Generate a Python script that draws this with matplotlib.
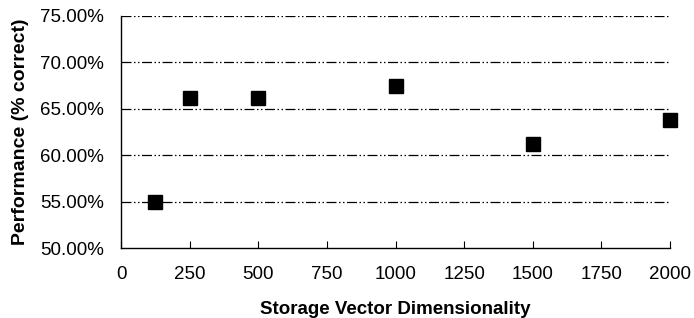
import matplotlib.pyplot as plt
from matplotlib.ticker import FuncFormatter

dimensions = [125, 250, 500, 1000, 1500, 2000]
performance = [55.0, 66.2, 66.2, 67.5, 61.2, 63.8]

x_ticks = [0, 250, 500, 750, 1000, 1250, 1500, 1750, 2000]
y_ticks = [50, 55, 60, 65, 70, 75]

plt.rcParams['font.family'] = ['Liberation Sans', 'DejaVu Sans']

fig = plt.figure(figsize=(6.94, 3.18), dpi=100)
ax = fig.add_axes([0.1744, 0.2201, 0.7910, 0.7296])

# dash-dot-dot gridlines, skipping the bottom one (that's the spine)
for y in y_ticks[1:]:
    ax.axhline(y, color='black', linewidth=0.9, dashes=(8, 2, 1.2, 2, 1.2, 2), zorder=1)

ax.plot(dimensions, performance, linestyle='none', marker='s', markersize=10,
        color='black', clip_on=False, zorder=3)

ax.set_xlim(0, 2000)
ax.set_ylim(50, 75)
ax.set_xticks(x_ticks)
ax.set_yticks(y_ticks)
ax.yaxis.set_major_formatter(FuncFormatter(lambda v, p: f'{v:.2f}%'))

ax.spines['top'].set_visible(False)
ax.spines['right'].set_visible(False)
ax.spines['left'].set_linewidth(1.0)
ax.spines['bottom'].set_linewidth(1.0)

ax.tick_params(axis='x', direction='in', length=5, width=0.8, labelsize=13.5, pad=13)
ax.tick_params(axis='y', length=0, labelsize=13.5, pad=12)

ax.set_xlabel('Storage Vector Dimensionality', fontsize=13.5, fontweight='bold', labelpad=13)
ax.set_ylabel('Performance (% correct)', fontsize=14, fontweight='bold', labelpad=8)

fig.savefig('out.png', dpi=100)
